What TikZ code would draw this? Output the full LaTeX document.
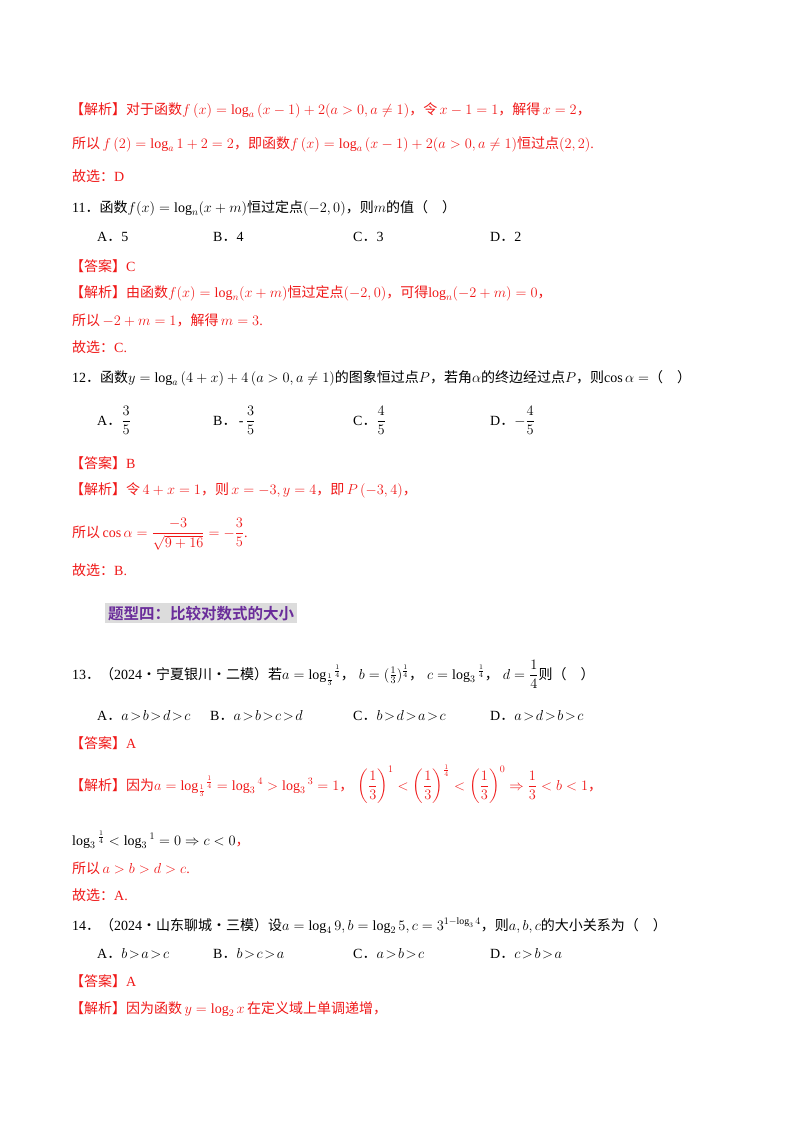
\documentclass[tikz,border=0pt]{standalone}
\usepackage{amsmath}
\usepackage{fontspec}
\setmainfont{Liberation Serif}
\newfontfamily\cjk{Noto Sans CJK SC}
\newfontfamily\cjkb{Noto Sans CJK SC Bold}
\newcommand{\zh}[1]{{\cjk #1}}
\definecolor{jr}{HTML}{F01818}
\definecolor{hp}{HTML}{6A2C9A}
\definecolor{hg}{HTML}{DCDCDC}
\begin{document}
\begin{tikzpicture}[x=1pt,y=-1pt,
  t/.style={anchor=base west,inner sep=0pt,font=\fontsize{14}{16}\selectfont},
  r/.style={t,text=jr},
  o/.style={t,execute at begin node={\thickmuskip=2mu}}]
\useasboundingbox[fill=white] (0,0) rectangle (800,1132);
\node[r] (l1) at (70,114) {\zh{【解析】对于函数}$f\left(x\right)=\log_a\left(x-1\right)+2(a>0,a\ne1)$\zh{，令}$\,x-1=1$\zh{，解得}$\,x=2$\zh{，}};
\node[r] (l2) at (72,148) {\zh{所以}$\,f\left(2\right)=\log_a1+2=2$\zh{，即函数}$f\left(x\right)=\log_a\left(x-1\right)+2(a>0,a\ne1)$\zh{恒过点}$\left(2,2\right)$.};
\node[r] (l3) at (72,181) {\zh{故选：}D};
\node[t] (q11) at (72,212) {11\zh{．函数}$f(x)=\log_n(x+m)$\zh{恒过定点}$(-2,0)$\zh{，则}$m$\zh{的值（\quad ）}};
\node[t] (a11) at (97,241) {A\zh{．}5};
\node[t] (b11) at (213,241) {B\zh{．}4};
\node[t] (c11) at (353,241) {C\zh{．}3};
\node[t] (d11) at (490,241) {D\zh{．}2};
\node[r] (k11) at (70,271) {\zh{【答案】}C};
\node[r] (j11) at (70,297) {\zh{【解析】由函数}$f(x)=\log_n(x+m)$\zh{恒过定点}$(-2,0)$\zh{，可得}$\log_n(-2+m)=0$\zh{，}};
\node[r] (s11) at (72,325) {\zh{所以}$\,-2+m=1$\zh{，解得}$\,m=3$.};
\node[r] (g11) at (72,352) {\zh{故选：}C.};
\node[t] (q12) at (72,382) {12\zh{．函数}$y=\log_a\left(4+x\right)+4\left(a>0,a\ne1\right)$\zh{的图象恒过点}$P$\zh{，若角}$\alpha$\zh{的终边经过点}$P$\zh{，则}$\cos\alpha=$\zh{（\quad ）}};
\node[t] (a12) at (97,425) {A\zh{．}$\dfrac{3}{5}$};
\node[t] (b12) at (213,425) {B\zh{．}\,-\,$\dfrac{3}{5}$};
\node[t] (c12) at (353,425) {C\zh{．}$\dfrac{4}{5}$};
\node[t] (d12) at (490,425) {D\zh{．}$-\dfrac{4}{5}$};
\node[r] (k12) at (70,468) {\zh{【答案】}B};
\node[r] (j12) at (70,494) {\zh{【解析】令}$\,4+x=1$\zh{，则}$\,x=-3,y=4$\zh{，即}$\,P\left(-3,4\right)$\zh{，}};
\node[r] (s12) at (72,537) {\zh{所以}$\,\cos\alpha=\dfrac{-3}{\sqrt{9+16}}=-\dfrac{3}{5}$.};
\node[r] (g12) at (72,575) {\zh{故选：}B.};
\node[fill=hg,text=hp,inner sep=3pt,anchor=base west,font=\cjkb\fontsize{15.5}{17}\selectfont] (h4) at (105,619) {题型四：比较对数式的大小};
\node[t] (q13) at (72,679) {13\zh{．（}2024\zh{·宁夏银川·二模）若}$a=\log_{\frac13}{}^{\!\frac14}$\zh{，}$\;b=(\frac13)^{\frac14}$\zh{，}$\;c=\log_3{}^{\frac14}$\zh{，}$\;d=\dfrac14$\zh{则（\quad ）}};
\node[o] (a13) at (97,720) {A\zh{．}$a>b>d>c$};
\node[o] (b13) at (210,720) {B\zh{．}$a>b>c>d$};
\node[o] (c13) at (353,720) {C\zh{．}$b>d>a>c$};
\node[o] (d13) at (490,720) {D\zh{．}$a>d>b>c$};
\node[r] (k13) at (70,748) {\zh{【答案】}A};
\node[r] (j13) at (70,790) {\zh{【解析】因为}$a=\log_{\frac13}{}^{\!\frac14}=\log_3{}^4>\log_3{}^3=1$\zh{，}$\;\left(\dfrac13\right)^{1}<\left(\dfrac13\right)^{\frac14}<\left(\dfrac13\right)^{0}\Rightarrow\dfrac13<b<1$\zh{，}};
\node[r] (m13) at (72,845) {\textcolor{black}{$\log_3{}^{\frac14}<\log_3{}^1=0\Rightarrow c<0$}\zh{，}};
\node[r] (s13) at (72,873) {\zh{所以}$\,a>b>d>c$.};
\node[r] (g13) at (72,900) {\zh{故选：}A.};
\node[t] (q14) at (72,930) {14\zh{．（}2024\zh{·山东聊城·三模）设}$a=\log_4 9,b=\log_2 5,c=3^{1-\log_3 4}$\zh{，则}$a,b,c$\zh{的大小关系为（\quad ）}};
\node[o] (a14) at (97,958) {A\zh{．}$b>a>c$};
\node[o] (b14) at (213,958) {B\zh{．}$b>c>a$};
\node[o] (c14) at (353,958) {C\zh{．}$a>b>c$};
\node[o] (d14) at (490,958) {D\zh{．}$c>b>a$};
\node[r] (k14) at (70,986) {\zh{【答案】}A};
\node[r] (j14) at (70,1013) {\zh{【解析】因为函数}$\,y=\log_2x\,$\zh{在定义域上单调递增，}};
\end{tikzpicture}
\end{document}
